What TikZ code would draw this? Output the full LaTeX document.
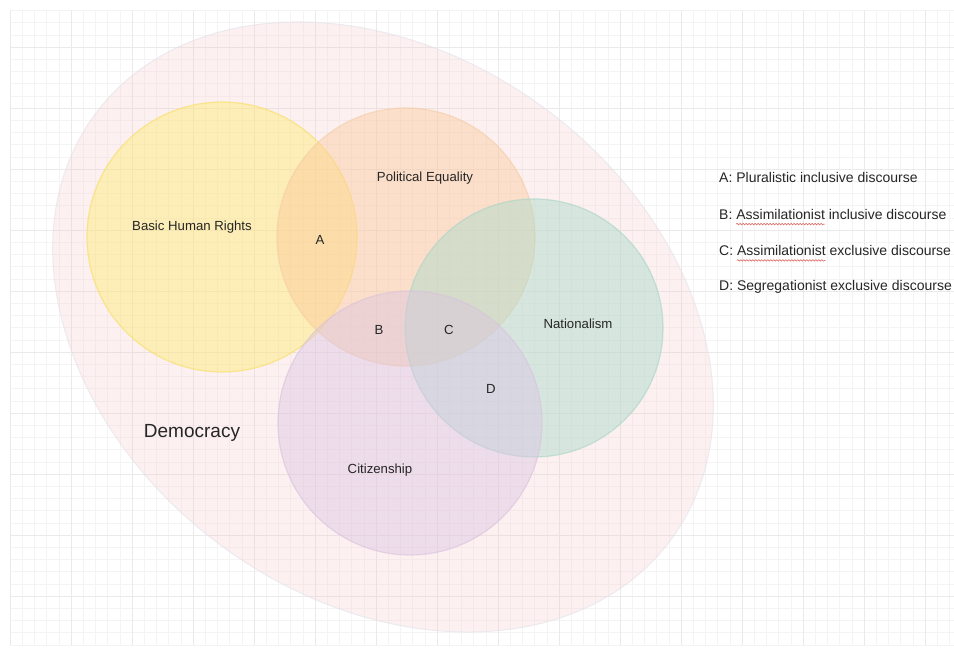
\documentclass[tikz,border=0pt]{standalone}
\usepackage{fontspec}
\setmainfont{Liberation Sans}
\usetikzlibrary{positioning, decorations.pathmorphing}

\definecolor{rejilla}{HTML}{F4F4F4}
\definecolor{rejillamayor}{HTML}{EAEAEA}
\definecolor{rosa}{HTML}{F7C6C6}
\definecolor{bordegris}{HTML}{E2E2EC}
\definecolor{amarillo}{HTML}{FFEA70}
\definecolor{bordeamarillo}{HTML}{F9DE60}
\definecolor{naranja}{HTML}{FBCB9C}
\definecolor{bordenaranja}{HTML}{F4CCA6}
\definecolor{verde}{HTML}{A8DCCC}
\definecolor{bordeverde}{HTML}{A8D4C6}
\definecolor{morado}{HTML}{DCC4E2}
\definecolor{bordemorado}{HTML}{D8C2DC}
\definecolor{texto}{HTML}{262626}
\definecolor{ondulado}{HTML}{D9534F}

\begin{document}
\begin{tikzpicture}[x=1pt, y=1pt,
		etiqueta/.style={font=\fontsize{13.2}{15}\selectfont, text=texto},
		leyenda/.style={font=\fontsize{14}{16}\selectfont, text=texto, anchor=west, inner sep=0pt},
		conjunto/.style={line width=1.2pt, fill opacity=0.45, draw opacity=0.6},
		ondulada/.style={draw=ondulado, line width=0.5pt, decorate,
			decoration={snake, segment length=3pt, amplitude=0.8pt}}]
			\useasboundingbox (0,0) rectangle (954,652);
			\fill[white] (0,0) rectangle (954,652);
			
			% rejilla de fondo
			\begin{scope}[shift={(10,7.2)}]
				\draw[rejilla, line width=0.5pt] (0,0) grid[step=12.2pt] (944,634.5);
			\end{scope}
			\draw[rejillamayor, line width=0.6pt] \foreach \x in {0,...,15} {(10+61*\x,7.2) -- (10+61*\x,641.6)};
			\draw[rejillamayor, line width=0.6pt] \foreach \k in {0,...,9} {(10,605-61*\k) -- (954,605-61*\k)};
			
			% elipse grande
			\filldraw[fill=rosa, fill opacity=0.25, draw=bordegris, draw opacity=0.6, line width=1pt,
				rotate around={-36.4:(383,325)}] (383,325) ellipse [x radius=358, y radius=272];
			
			\filldraw[conjunto, fill=amarillo] [draw=bordeamarillo] (222,415) circle [radius=135];
			\filldraw[conjunto, fill=naranja, draw=bordenaranja] (406,415) circle [radius=129];
			\filldraw[conjunto, fill=verde, draw=bordeverde] (534,324) circle [radius=129];       % encima del naranja
			\filldraw[conjunto, fill=morado, draw=bordemorado] (410,229) circle [radius=132];
			
			\node[etiqueta] (BHR) at (192,425) {Basic Human Rights};
			\node[etiqueta] (PE) at (425,474) {Political Equality};
			\node[etiqueta] (NAC) at (578,328) {Nationalism};
			\node[etiqueta] (CIU) at (380,182) {Citizenship};
			\node[etiqueta] (DEM) [font=\fontsize{19}{22}\selectfont] at (192,219) {Democracy};
			
			\node[etiqueta] (A) at (320,412) {A};
			\node[etiqueta] (B) at (379,322) {B};
			\node[etiqueta] (C) at (449,322) {C};
			\node[etiqueta] (D) at (491,263) {D};
			
			% leyenda
			\node[leyenda] (legA) at (719,474) {A: Pluralistic inclusive discourse};
			\node[leyenda, below=36.3pt of legA.west, anchor=west] (legB) {B: Assimilationist inclusive discourse};
			\node[leyenda, below=36.3pt of legB.west, anchor=west] (legC) {C: Assimilationist exclusive discourse};
			\node[leyenda, below=36.3pt of legC.west, anchor=west] (legD) {D: Segregationist exclusive discourse};
			
			\draw[ondulada] ([xshift=17.1pt, yshift=-4.5pt]legB.south west) -- ++(88.7,0);   % subrayado rojo
			\draw[ondulada] ([xshift=17.9pt, yshift=-4.5pt]legC.south west) -- ++(88.7,0);
		\end{tikzpicture}
\end{document}
